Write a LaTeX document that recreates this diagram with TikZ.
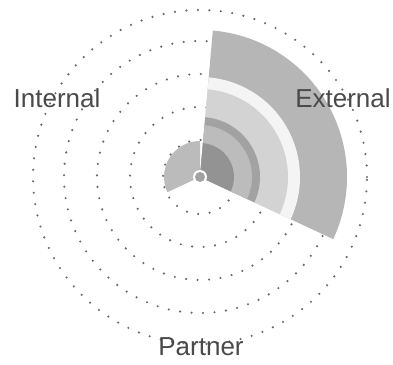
\documentclass[tikz,border=0pt]{standalone}
\usepackage{fontspec}
\setmainfont{Liberation Sans}

\definecolor{labelgray}{HTML}{4A4A4A}
\definecolor{dotgray}{HTML}{6A6A6A}
\definecolor{bandA}{HTML}{B6B6B6}
\definecolor{bandB}{HTML}{F4F4F4}
\definecolor{bandC}{HTML}{D3D3D3}
\definecolor{bandD}{HTML}{A2A2A2}
\definecolor{bandE}{HTML}{BCBCBC}
\definecolor{bandF}{HTML}{939393}
\definecolor{innergray}{HTML}{BBBBBB}

% color, start angle, end angle, radius
\newcommand{\wedgefill}[4]{%
  \fill[#1] (o) -- ++(#2:#4) arc[start angle=#2, end angle=#3, radius=#4] -- cycle;}

\begin{document}
\begin{tikzpicture}[x=1pt, y=1pt,
    ring/.style = {dotgray, line width=2.4pt, line cap=round, dash pattern=on 0pt off 11.5pt},
    zone/.style = {labelgray, font=\fontsize{26}{30}\selectfont}]
  \useasboundingbox (0,0) rectangle (393,364);
  \coordinate (o) at (200,187);

  % dotted rings
  \foreach \r in {37,70,103,136,167}
    \draw[ring] (o) circle[radius=\r];

  % external
  \wedgefill{bandA}{-25}{85}{147}
  \wedgefill{bandB}{-25}{85}{100}
  \wedgefill{bandC}{-25}{85}{88}
  \wedgefill{bandD}{-25}{85}{60}
  \wedgefill{bandE}{-25}{85}{52}
  \wedgefill{bandF}{-25}{85}{34}

  % internal
  \wedgefill{innergray}{90}{205}{36}

  % centre
  \fill[white] (o) circle[radius=7];
  \fill[bandD] (o) circle[radius=5];

  \node[zone] (internal) at (57,266) {Internal};
  \node[zone] (external) at (343,266) {External};
  \node[zone] (partner) at (201,17) {Partner};
\end{tikzpicture}
\end{document}
